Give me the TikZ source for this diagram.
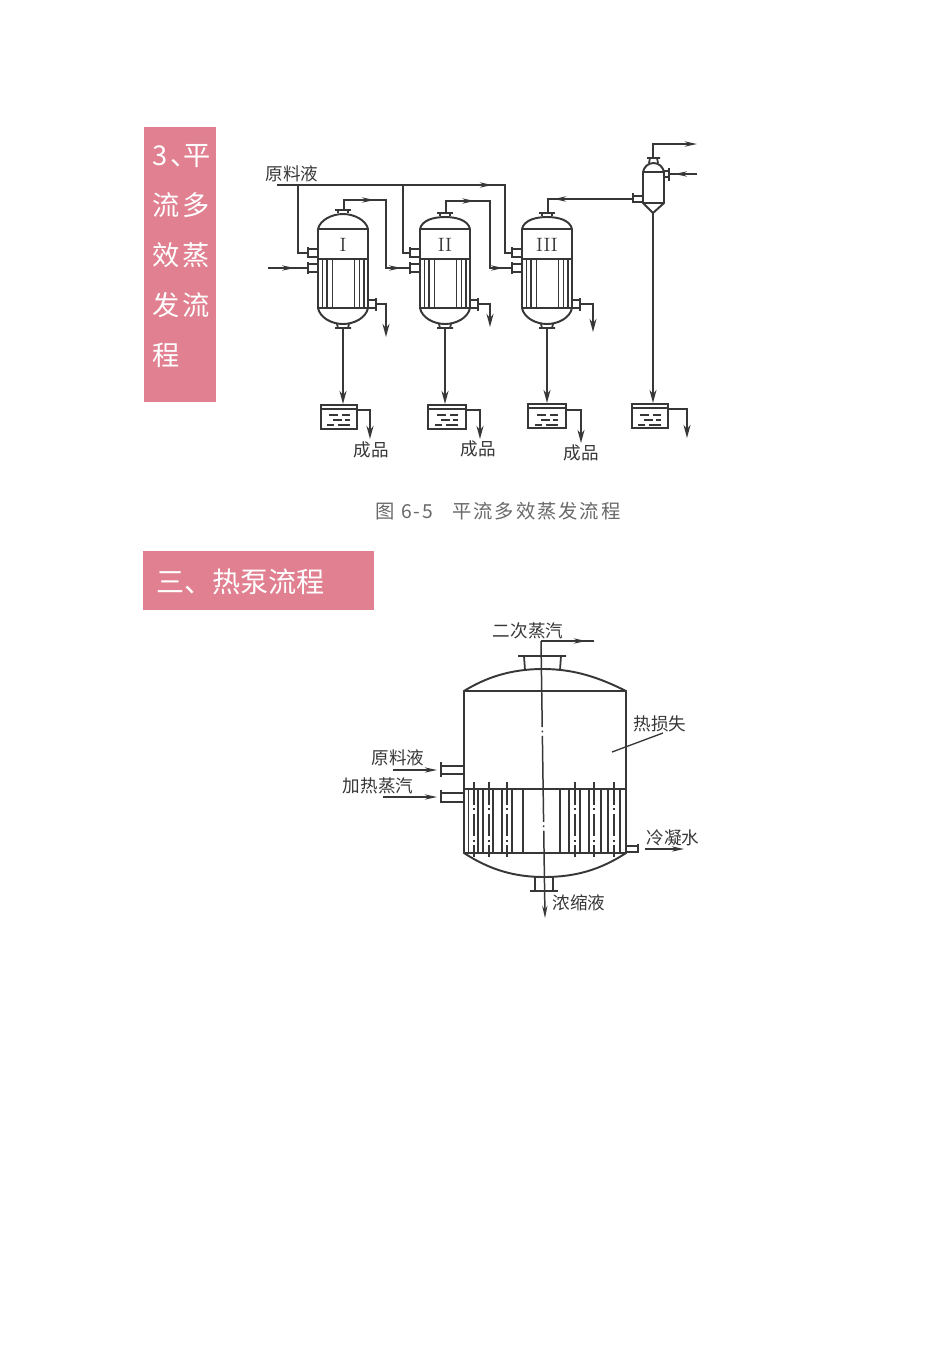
\documentclass[tikz,border=0pt]{standalone}
\usepackage{fontspec}
\newfontfamily\cjk{Noto Sans CJK SC}
\newfontfamily\cjkwide[LetterSpace=10]{Noto Sans CJK SC}
\usepackage{tikz}
\usetikzlibrary{arrows.meta, positioning, calc, decorations.markings}
\definecolor{heading}{RGB}{224, 128, 144}
\definecolor{scan}{RGB}{55, 55, 55}
\definecolor{captiongray}{RGB}{105, 105, 105}
\tikzset{
  flowtip/.tip={Stealth[length=7.5pt, width=4pt]},
  midtip/.tip={Stealth[length=7pt, width=3pt]}
}
\begin{document}
\begin{tikzpicture}[
  x=0.02cm, y=-0.02cm,
  pipe/.style={draw=scan, line width=1pt},
  wall/.style={draw=scan, line width=1.1pt},
  thin tube/.style={draw=scan, line width=0.75pt},
  feed out/.style={pipe, -{flowtip}},
  flow/.style={postaction={decorate, decoration={markings, mark=at position #1 with {\arrow{midtip}}}}},
  tank/.style={draw=scan, line width=1pt, minimum height=0.48cm, inner sep=0},
  label/.style={font=\cjk\fontsize{10}{12}\selectfont, text=scan, inner sep=0},
  banner/.style={fill=heading, inner sep=0, anchor=north west},
  bannertext/.style={text=white, inner sep=0, anchor=north west}
]
  \fill[white] (0,0) rectangle (952,1347);
  \useasboundingbox (0,0) rectangle (952,1347);

  % Headings
  \node[banner, minimum width=1.44cm, minimum height=5.5cm] (head3) at (144,127) {};
  \node[bannertext, align=left, font=\cjkwide\fontsize{15.5}{28.4}\selectfont] (head3text) at (152,144.5)
    {\makebox[0.62cm][l]{3、}平\\流多\\效蒸\\发流\\程};
  \node[banner, minimum width=4.62cm, minimum height=1.18cm] (headpump) at (143,551) {};
  \node[bannertext, anchor=west, font=\cjk\fontsize{16}{18}\selectfont] (headpumptext) at (156,582) {三、热泵流程};

  % Evaporators
  \foreach \n/\cx/\ytop/\rom in {1/343/214/I, 2/445/217/II, 3/547/217/III} {
    \draw[wall] (\cx-25,229) -- (\cx-25,308) .. controls (\cx-23,318) and (\cx-11,324) .. (\cx,324)
      .. controls (\cx+11,324) and (\cx+23,318) .. (\cx+25,308) -- (\cx+25,229)
      .. controls (\cx+23,220) and (\cx+11,\ytop) .. (\cx,\ytop)
      .. controls (\cx-11,\ytop) and (\cx-23,220) .. cycle;
    \draw[pipe] (\cx-25,229) -- (\cx+25,229);
    \draw[pipe] (\cx-25,259) -- (\cx+25,259);
    \draw[pipe] (\cx-25,308) -- (\cx+25,308);
    \foreach \dx in {-20.7,-16,-10.7,11.7,16.7,21}
      \draw[thin tube] (\cx+\dx,259) -- (\cx+\dx,308);
    \node[font=\fontsize{11}{13}\selectfont, text=scan, inner sep=0] (rom\n) at (\cx,245) {\rom};
    % nozzles
    \draw[pipe] (\cx-5,\ytop-1) -- (\cx-5,\ytop-4) (\cx+5,\ytop-1) -- (\cx+5,\ytop-4)
      (\cx-8,\ytop-4) -- (\cx+8,\ytop-4);
    \draw[pipe] (\cx-6,324) -- (\cx-5,328) (\cx+6,324) -- (\cx+5,328) (\cx-8,328) -- (\cx+8,328);
    \draw[pipe] (\cx-25,249) -- (\cx-35,249) (\cx-25,257) -- (\cx-35,257) (\cx-35,247) -- (\cx-35,258);
    \draw[pipe] (\cx-25,264) -- (\cx-35,264) (\cx-25,272) -- (\cx-35,272) (\cx-35,262) -- (\cx-35,274);
    \draw[pipe] (\cx+25,300) -- (\cx+33,300) (\cx+25,308) -- (\cx+33,308) (\cx+33,298) -- (\cx+33,311);
    \coordinate (e\n top) at (\cx+1,\ytop-4);
    \coordinate (e\n bot) at (\cx,328);
    \coordinate (e\n feed) at (\cx-35,253);
    \coordinate (e\n steam) at (\cx-35,268);
    \coordinate (e\n cond) at (\cx+33,304);
  }

  % Separator
  \draw[wall] (643,172) -- (643,203) -- (653,213) -- (664,203) -- (664,172)
    .. controls (663,167) and (659,163) .. (653.5,163) .. controls (648,163) and (644,167) .. cycle;
  \draw[pipe] (643,172) -- (664,172);
  \draw[pipe] (643,203) -- (664,203);
  \draw[pipe] (649,163) -- (650,158) (658,163) -- (657,158) (647,158) -- (660,158);
  \draw[pipe] (643,196) -- (633,196) (643,202) -- (633,202) (633,193) -- (633,203);
  \draw[pipe] (664,171) -- (669,171) (664,177) -- (669,177) (669,168) -- (669,181);
  \coordinate (septop) at (653,158);
  \coordinate (sepbot) at (653,213);
  \coordinate (sepin) at (633,199);
  \coordinate (sepside) at (669,174);

  % Tanks
  \foreach \n/\cx/\ytop/\w in {1/339/404/0.72, 2/447/404/0.76, 3/547/403/0.76, 4/650/403/0.72} {
    \node[tank, minimum width=\w cm, anchor=north] (t\n) at (\cx,\ytop) {};
    \draw[pipe] ($(t\n.north west)+(0,5)$) -- ($(t\n.north east)+(0,5)$);
    \draw[thin tube] (\cx-10,415) -- ++(9,0) (\cx+3,415) -- ++(8,0)
      (\cx-6,420) -- ++(9,0) (\cx+6,420) -- ++(5,0)
      (\cx-12,425) -- ++(7,0) (\cx-1,425) -- ++(12,0);
  }

  % Feed and vapour lines
  \coordinate (feedstart) at (277,185);
  \draw[pipe, flow=0.71] (feedstart) -| (505,253) -- (e3feed);
  \draw[pipe] (298,185) |- (e1feed);
  \draw[pipe] (403,185) |- (e2feed);
  \coordinate (steamstart) at (268,268);
  \draw[pipe, flow=0.66] (steamstart) -- (e1steam);
  \draw[pipe, flow=0.28, flow=0.94] (e1top) |- (386,200) |- (e2steam);
  \draw[pipe, flow=0.28, flow=0.94] (e2top) |- (490,201) |- (e3steam);
  \draw[pipe, flow=0.8] (sepin) -| (e3top);
  \coordinate (vapourout) at (697,144);
  \draw[pipe, -{midtip}] (septop) |- (vapourout);
  \coordinate (waterin) at (697,174);
  \draw[pipe, flow=0.8] (waterin) -- (sepside);

  % Condensate and product lines
  \draw[feed out] (e1cond) -| (386,337);
  \draw[feed out] (e2cond) -| (490,327);
  \draw[feed out] (e3cond) -| (593,332);
  \foreach \n in {1,2,3}
    \draw[feed out] (e\n bot) -- (e\n bot |- t\n.north);
  \draw[feed out] (sepbot) -- (sepbot |- t4.north);
  \draw[feed out] (t1.east |- 0,410) -| (370,439);
  \draw[feed out] (t2.east |- 0,410) -| (480,439);
  \draw[feed out] (t3.east |- 0,410) -| (581,443);
  \draw[feed out] (t4.east |- 0,409) -| (687,438);

  % Labels of first figure
  \node[label] (feedlabel) at (292,174) {原料液};
  \node[label] (prod1) at (371,450) {成品};
  \node[label] (prod2) at (478,449) {成品};
  \node[label] (prod3) at (581,453) {成品};
  \node[font=\cjkwide\fontsize{11}{13}\selectfont, text=captiongray, inner sep=0] (caption) at (498,511) {图 6-5\quad 平流多效蒸发流程};

  % Heat pump vessel
  \draw[wall] (464,691) -- (464,853) .. controls (490,870) and (515,877) .. (544,877)
    .. controls (575,877) and (600,870) .. (626,853) -- (626,691)
    .. controls (600,678) and (575,669) .. (543,669)
    .. controls (510,669) and (485,678) .. cycle;
  \draw[pipe] (464,691) -- (626,691);
  \draw[pipe] (464,789) -- (626,789);
  \draw[pipe] (464,853) -- (626,853);
  \foreach \tx in {468.5,478,483,493,502,512,523,560,569,580,589,601,608,620}
    \draw[thin tube] (\tx,789) -- (\tx,853);
  \foreach \tx in {474,489,507,575,594,614}
    \draw[thin tube, dash pattern=on 13pt off 2pt on 1pt off 2pt] (\tx,782) -- (\tx,857);
  % nozzles of vessel
  \draw[pipe] (524,656) -- (525,670) (561,656) -- (560,670) (518,656) -- (566,656);
  \draw[pipe] (535,877) -- (535,891) (553,877) -- (553,891) (530,891) -- (558,891);
  \draw[pipe] (464,766) -- (441,766) (464,774) -- (441,774) (441,762) -- (441,777);
  \draw[pipe] (464,793) -- (441,793) (464,802) -- (441,802) (441,790) -- (441,803);
  \draw[pipe] (626,846) -- (638,846) (626,852) -- (638,852) (638,844) -- (638,853);

  % Lines of vessel
  \coordinate (ventout) at (594,641);
  \coordinate (axistop) at (541,641);
  \coordinate (axisbot) at (545,918);
  \draw[pipe, flow=0.85] (axistop) -- (ventout);
  \draw[thin tube, line width=0.85pt, dash pattern=on 49pt off 2pt on 1pt off 2pt, -{midtip}] (axistop) -- (axisbot);
  \coordinate (feedin) at (393,770);
  \coordinate (feedend) at (437,770);
  \draw[thin tube, -{midtip}] (feedin) -- (feedend);
  \coordinate (steamin) at (383,797);
  \coordinate (steamend) at (437,797);
  \draw[thin tube, -{midtip}] (steamin) -- (steamend);
  \coordinate (condin) at (645,849);
  \coordinate (condend) at (684,849);
  \draw[thin tube, -{midtip}] (condin) -- (condend);
  \coordinate (lossa) at (663,733);
  \coordinate (lossb) at (612,752);
  \draw[thin tube] (lossa) -- (lossb);

  % Labels of vessel
  \node[label] (vent) at (528,631) {二次蒸汽};
  \node[label] (loss) at (660,724) {热损失};
  \node[label] (rawliquid) at (398,758) {原料液};
  \node[label] (heatsteam) at (378,786) {加热蒸汽};
  \node[label] (condensate) at (673,838) {冷凝水};
  \node[label] (product) at (579,903) {浓缩液};
\end{tikzpicture}
\end{document}
